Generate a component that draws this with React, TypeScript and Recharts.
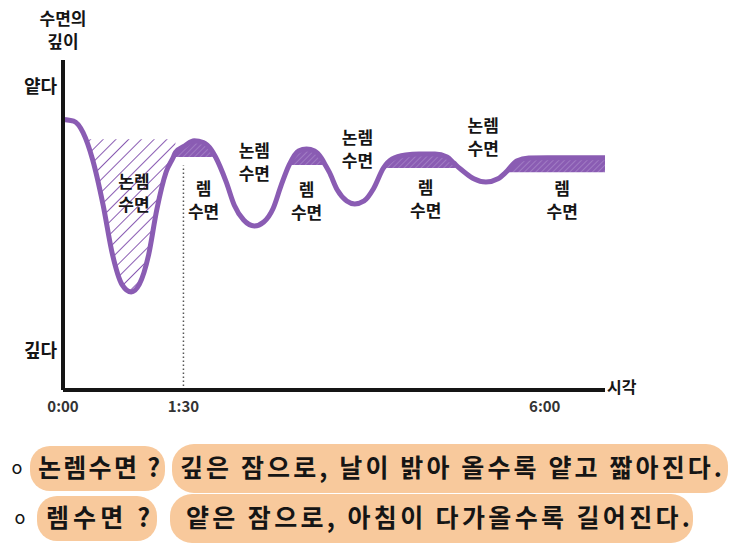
import React from 'react';
import {
  Area,
  ComposedChart,
  Line,
  ReferenceDot,
  ReferenceLine,
  XAxis,
  YAxis,
} from 'recharts';

// elapsed minutes of sleep and how shallow the sleep is (100 = surface, 0 = deepest)
const TIME_MIN = [
  0, 8, 15, 22, 30, 37, 44, 51, 57, 64, 70, 77, 82.5, 84, 91, 98, 105, 111, 114, 122,
  128, 135, 143, 150, 157, 163, 169, 176, 182, 188, 193, 196, 199, 205, 212, 218, 225,
  232, 239.5, 246, 256, 266, 278, 287, 292, 296, 300, 307, 316, 325, 331, 339, 348, 362,
  380, 405,
];
const SHALLOWNESS = [
  82, 81.5, 78, 70, 56, 41, 32, 29.7, 32, 41, 54.5, 66, 70.6, 72, 74, 75.5, 75, 72.7, 70.6, 63,
  56, 51.5, 49.7, 50.9, 55, 62, 68.2, 72.4, 73, 72.4, 70.3, 68.2, 66, 60.6, 57.3, 56.4, 57.3,
  61, 67.3, 70, 71.2, 71.5, 71.5, 70.6, 68.8, 67.3, 66, 64, 63, 64, 66, 69.4, 70.3, 70.4,
  70.4, 70.4,
];

// REM phases: start, end, chord level the bump is filled down to
const REM_START = [82.5, 169, 239.5, 331];
const REM_END = [114, 196, 296, 405];
const REM_BASE = [70.6, 68.2, 67.3, 66];

// first deep non-REM phase (hatched)
const NREM_START = 15;
const NREM_END = 84;
const NREM_TOP = 76;

const TIME_TICKS = [0, 90, 360];
const TIME_LABELS = ['0:00', '1:30', '6:00'];
const DEPTH_TICKS = [12, 92];
const DEPTH_LABELS = ['깊다', '얕다'];

const STAGE_T = [53, 105, 143, 182, 220, 271, 314, 373];
const STAGE_V = [60, 58, 69.4, 57.6, 73.3, 58.2, 77, 57.9];
const STAGE_NAME = ['논렘', '렘', '논렘', '렘', '논렘', '렘', '논렘', '렘'];

const NOTE_HEAD = ['논렘수면 ?', '렘수면 ?'];
const NOTE_TEXT = [
  '깊은 잠으로, 날이 밝아 올수록 얕고 짧아진다.',
  '얕은 잠으로, 아침이 다가올수록 길어진다.',
];

const PURPLE = '#8A5CB3';
const INK = '#151515';
const PEACH = '#F8C99C';
const FONT = '"Noto Sans CJK KR", "Noto Sans", sans-serif';

const data = TIME_MIN.map((t, i) => {
  const v = SHALLOWNESS[i];
  const k = REM_START.findIndex((s, j) => t >= s && t <= REM_END[j]);
  return {
    t,
    v,
    rem: k >= 0 ? [REM_BASE[k], Math.max(REM_BASE[k], v)] : null,
    nrem: t >= NREM_START && t <= NREM_END ? [Math.min(v, NREM_TOP), NREM_TOP] : null,
  };
});

function StageLabel({ cx, cy, name }: { cx?: number; cy?: number; name: string }) {
  if (cx == null || cy == null) return null;
  return (
    <text
      x={cx}
      y={cy}
      textAnchor="middle"
      fontFamily={FONT}
      fontWeight={700}
      fontSize={17}
      fill={INK}
    >
      <tspan x={cx} dy={-4}>{name}</tspan>
      <tspan x={cx} dy={23}>수면</tspan>
    </text>
  );
}

function TimeTick({ x, y, payload }: any) {
  const idx = TIME_TICKS.indexOf(payload.value);
  return (
    <text x={x} y={y + 14} textAnchor="middle" fontFamily={FONT} fontWeight={700} fontSize={15} fill="#333">
      {TIME_LABELS[idx]}
    </text>
  );
}

function DepthTick({ x, y, payload }: any) {
  const idx = DEPTH_TICKS.indexOf(payload.value);
  return (
    <text x={x + 2} y={y + 7} textAnchor="end" fontFamily={FONT} fontWeight={700} fontSize={18} fill={INK}>
      {DEPTH_LABELS[idx]}
    </text>
  );
}

function Notes() {
  const rows = [
    { y: 468, headX: [30, 165], textX: [172, 728], headText: [38, 122], bodyText: [180, 542] },
    { y: 518, headX: [37, 157], textX: [170, 693], headText: [46, 104], bodyText: [186, 504] },
  ];
  return (
    <svg width={743} height={551} style={{ position: 'absolute', left: 0, top: 0 }}>
      {rows.map((r, i) => (
        <g key={i}>
          <rect x={r.headX[0]} y={r.y - 22} width={r.headX[1] - r.headX[0]} height={45} rx={20} fill={PEACH} />
          <rect x={r.textX[0]} y={r.y - 24} width={r.textX[1] - r.textX[0]} height={49} rx={22} fill={PEACH} />
          <text x={i === 0 ? 17 : 20} y={r.y + 6} textAnchor="middle" fontFamily={FONT} fontSize={18} fill={INK}>
            o
          </text>
          <text
            x={r.headText[0]}
            y={r.y + 9}
            fontFamily={FONT}
            fontWeight={700}
            fontSize={25}
            fill={INK}
            textLength={r.headText[1]}
            lengthAdjust="spacing"
          >
            {NOTE_HEAD[i]}
          </text>
          <text
            x={r.bodyText[0]}
            y={r.y + 9}
            fontFamily={FONT}
            fontWeight={700}
            fontSize={25}
            fill={INK}
            textLength={r.bodyText[1]}
            lengthAdjust="spacing"
          >
            {NOTE_TEXT[i]}
          </text>
        </g>
      ))}
    </svg>
  );
}

export default function App() {
  return (
    <div style={{ position: 'absolute', left: 0, top: 0, width: 743, height: 551, background: '#fff' }}>
      <div
        style={{
          position: 'absolute',
          left: 30,
          top: 6,
          width: 66,
          textAlign: 'center',
          fontFamily: FONT,
          fontWeight: 700,
          fontSize: 17,
          lineHeight: '23px',
          color: INK,
        }}
      >
        수면의
        <br />
        깊이
      </div>
      <div
        style={{
          position: 'absolute',
          left: 607,
          top: 374,
          fontFamily: FONT,
          fontWeight: 700,
          fontSize: 16,
          color: INK,
        }}
      >
        시각
      </div>
      <div style={{ position: 'absolute', left: 0, top: 0 }}>
        <ComposedChart
          width={743}
          height={430}
          data={data}
          margin={{ top: 60, right: 138, left: 0, bottom: 0 }}
        >
          <defs>
            <pattern id="hatchWide" width={9} height={9} patternUnits="userSpaceOnUse" patternTransform="rotate(45)">
              <line x1={0} y1={0} x2={0} y2={9} stroke={PURPLE} strokeWidth={2} />
            </pattern>
            <pattern id="hatchRem" width={4} height={4} patternUnits="userSpaceOnUse" patternTransform="rotate(45)">
              <rect width={4} height={4} fill={PURPLE} />
              <line x1={0} y1={0} x2={0} y2={4} stroke="#B69AD3" strokeWidth={1} />
            </pattern>
          </defs>
          <XAxis
            dataKey="t"
            type="number"
            domain={[0, 405]}
            ticks={TIME_TICKS}
            tick={<TimeTick />}
            tickLine={false}
            axisLine={{ stroke: INK, strokeWidth: 4 }}
            height={40}
            allowDataOverflow
          />
          <YAxis
            type="number"
            domain={[0, 100]}
            ticks={DEPTH_TICKS}
            tick={<DepthTick />}
            tickLine={false}
            axisLine={{ stroke: INK, strokeWidth: 4 }}
            width={63}
          />
          <ReferenceLine
            segment={[
              { x: 90, y: 0 },
              { x: 90, y: 68 },
            ]}
            stroke="#555"
            strokeWidth={1.5}
            strokeDasharray="1.5 2.5"
          />
          <Area
            dataKey="nrem"
            type="monotone"
            stroke="none"
            fill="url(#hatchWide)"
            fillOpacity={1}
            isAnimationActive={false}
            activeDot={false}
          />
          <Area
            dataKey="rem"
            type="monotone"
            stroke="none"
            fill="url(#hatchRem)"
            fillOpacity={1}
            isAnimationActive={false}
            activeDot={false}
          />
          <Line
            dataKey="v"
            type="monotone"
            stroke={PURPLE}
            strokeWidth={5}
            strokeLinecap="round"
            dot={false}
            activeDot={false}
            isAnimationActive={false}
          />
          {STAGE_T.map((t, i) => (
            <ReferenceDot
              key={i}
              x={t}
              y={STAGE_V[i]}
              r={0}
              shape={(p: any) => <StageLabel cx={p.cx} cy={p.cy} name={STAGE_NAME[i]} />}
            />
          ))}
        </ComposedChart>
      </div>
      <Notes />
    </div>
  );
}
